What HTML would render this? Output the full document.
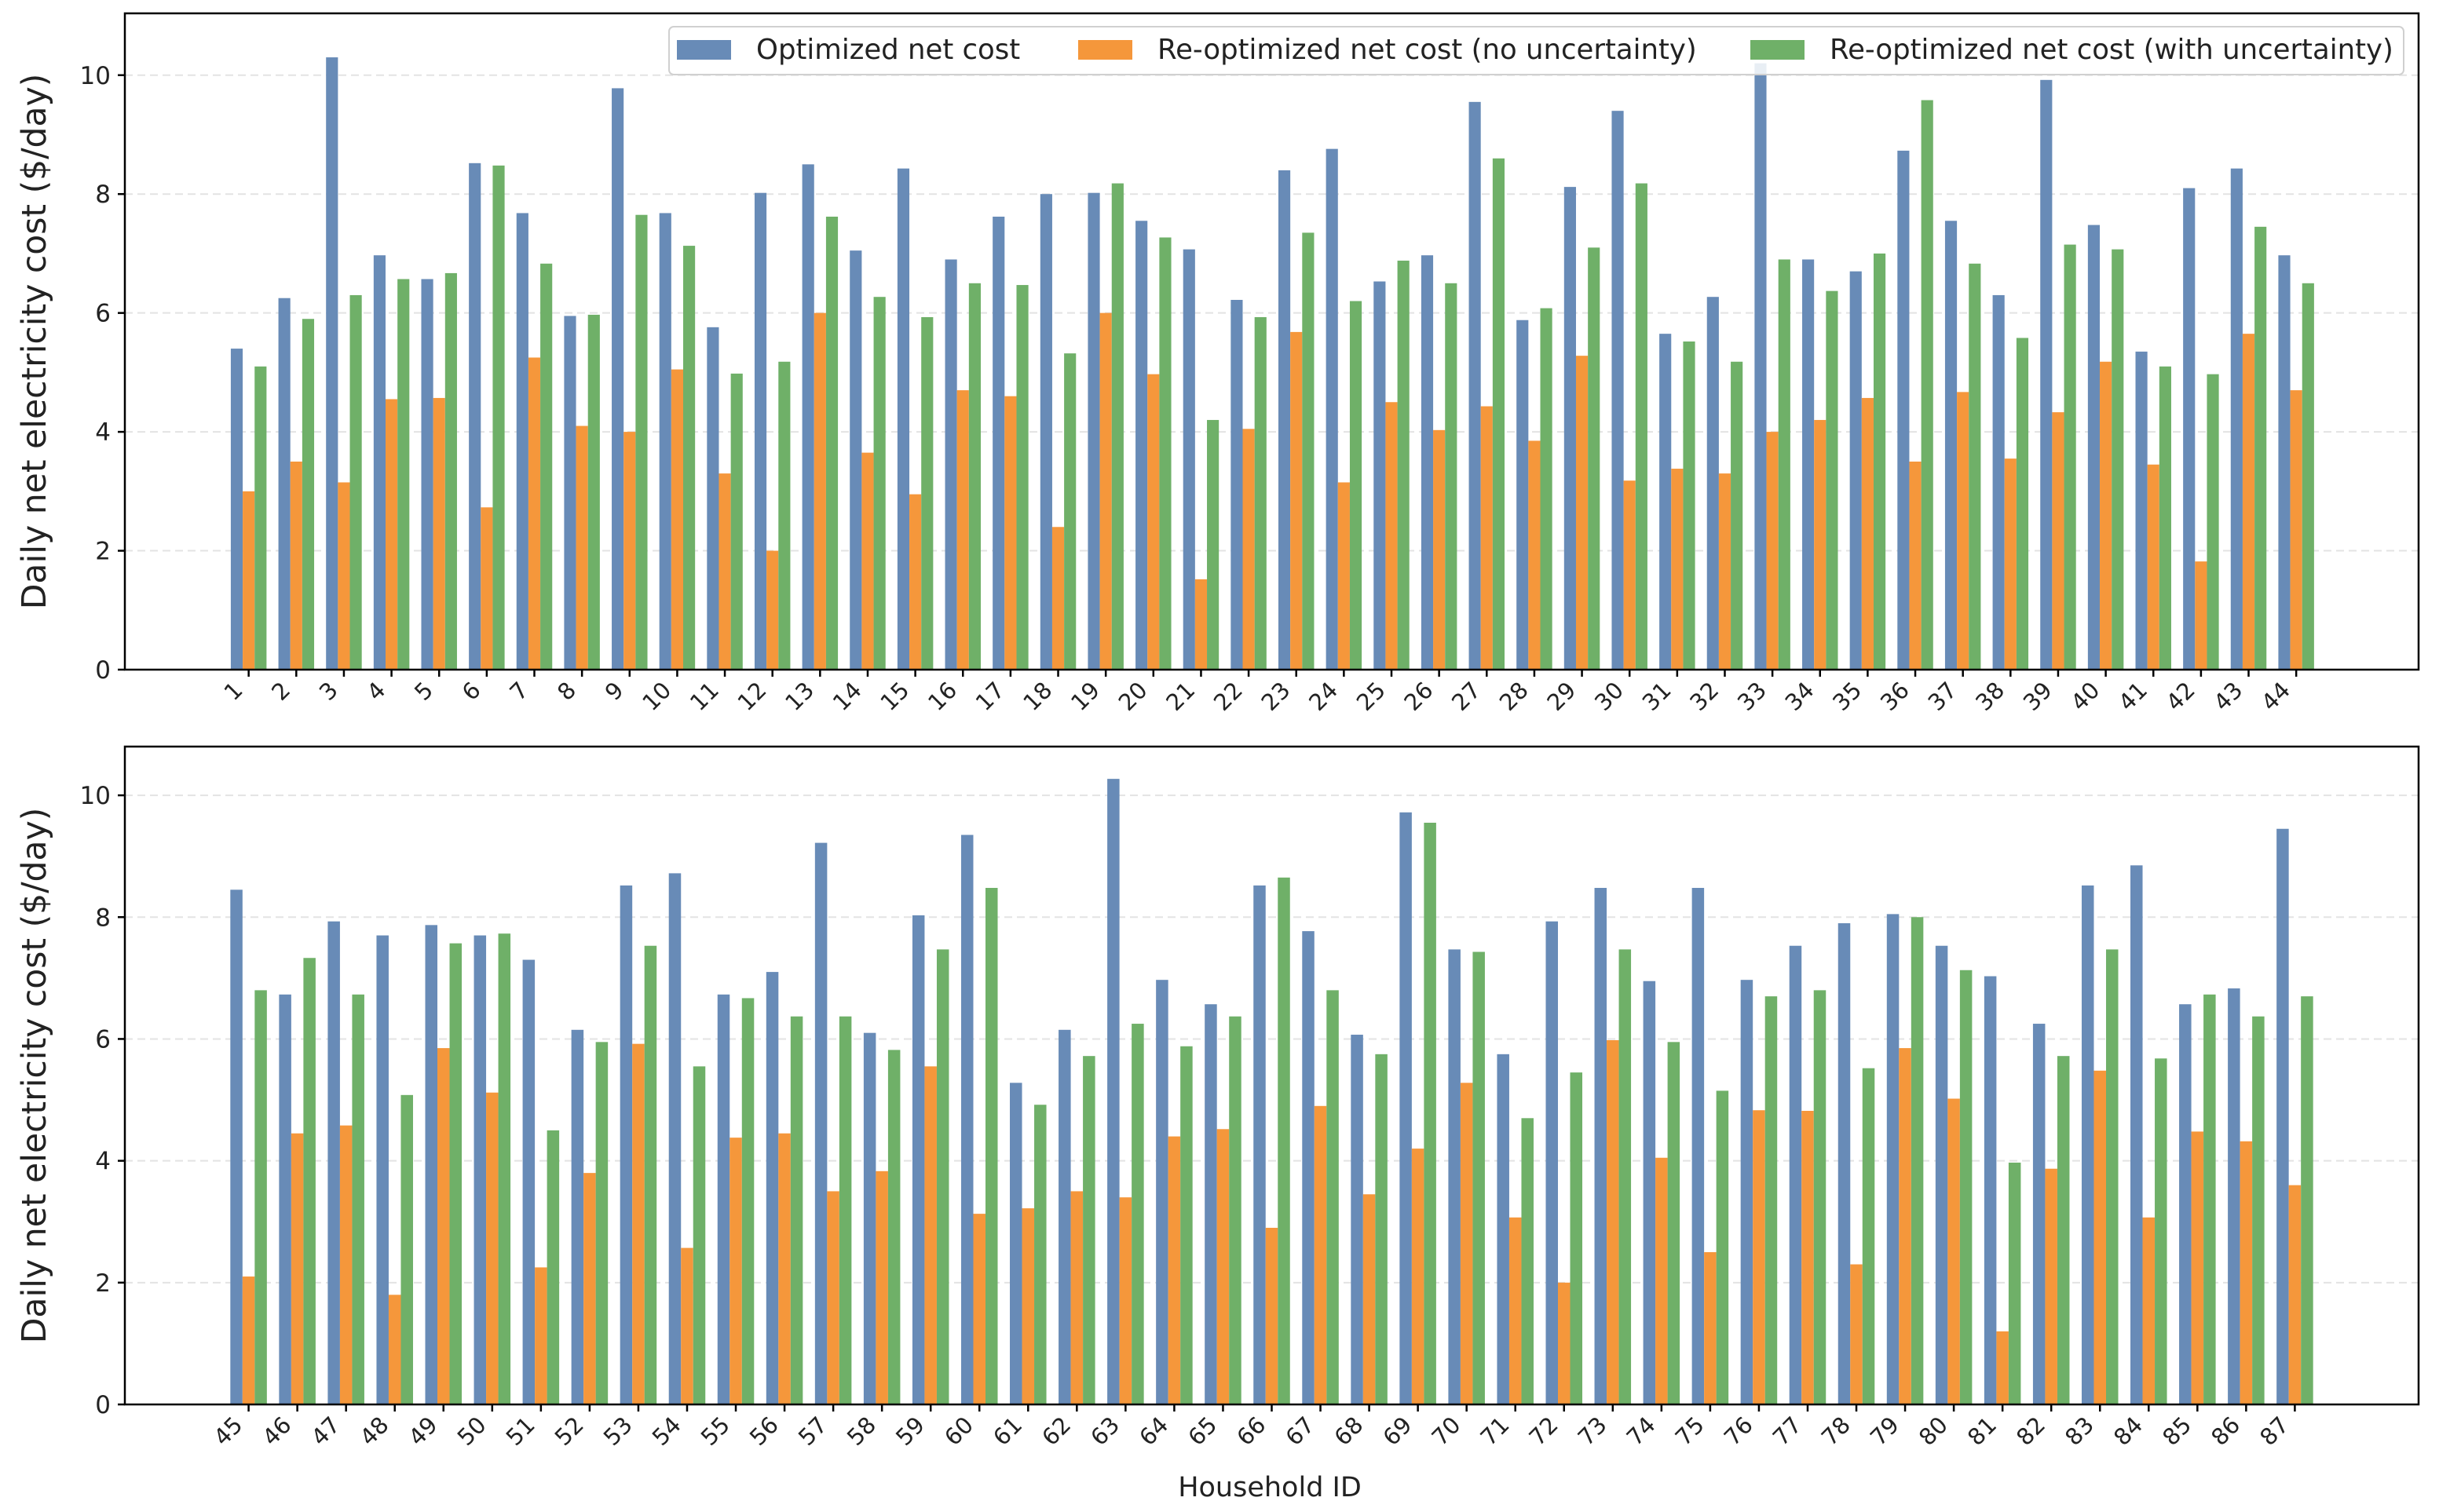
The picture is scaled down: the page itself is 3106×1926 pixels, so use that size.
<!DOCTYPE html>
<html><head><meta charset="utf-8"><style>
html,body{margin:0;padding:0;background:#fff;}
svg{display:block;font-family:"DejaVu Sans","Liberation Sans",sans-serif;}
</style></head><body>
<svg id="chart" width="3106" height="1926" viewBox="0 0 3106 1926" xmlns="http://www.w3.org/2000/svg"></svg>
<script>
const idsTop = [1,2,3,4,5,6,7,8,9,10,11,12,13,14,15,16,17,18,19,20,21,22,23,24,25,26,27,28,29,30,31,32,33,34,35,36,37,38,39,40,41,42,43,44];
const optTop = [5.4,6.25,10.3,6.97,6.57,8.52,7.68,5.95,9.78,7.68,5.76,8.02,8.5,7.05,8.43,6.9,7.62,8.0,8.02,7.55,7.07,6.22,8.4,8.76,6.53,6.97,9.55,5.88,8.12,9.4,5.65,6.27,10.2,6.9,6.7,8.73,7.55,6.3,9.92,7.48,5.35,8.1,8.43,6.97];
const reoptTop = [3.0,3.5,3.15,4.55,4.57,2.73,5.25,4.1,4.0,5.05,3.3,2.0,6.0,3.65,2.95,4.7,4.6,2.4,6.0,4.97,1.52,4.05,5.68,3.15,4.5,4.03,4.43,3.85,5.28,3.18,3.38,3.3,4.0,4.2,4.57,3.5,4.67,3.55,4.33,5.18,3.45,1.82,5.65,4.7];
const uncTop = [5.1,5.9,6.3,6.57,6.67,8.48,6.83,5.97,7.65,7.13,4.98,5.18,7.62,6.27,5.93,6.5,6.47,5.32,8.18,7.27,4.2,5.93,7.35,6.2,6.88,6.5,8.6,6.08,7.1,8.18,5.52,5.18,6.9,6.37,7.0,9.58,6.83,5.58,7.15,7.07,5.1,4.97,7.45,6.5];
const idsBot = [45,46,47,48,49,50,51,52,53,54,55,56,57,58,59,60,61,62,63,64,65,66,67,68,69,70,71,72,73,74,75,76,77,78,79,80,81,82,83,84,85,86,87];
const optBot = [8.45,6.73,7.93,7.7,7.87,7.7,7.3,6.15,8.52,8.72,6.73,7.1,9.22,6.1,8.03,9.35,5.28,6.15,10.27,6.97,6.57,8.52,7.77,6.07,9.72,7.47,5.75,7.93,8.48,6.95,8.48,6.97,7.53,7.9,8.05,7.53,7.03,6.25,8.52,8.85,6.57,6.83,9.45];
const reoptBot = [2.1,4.45,4.58,1.8,5.85,5.12,2.25,3.8,5.92,2.57,4.38,4.45,3.5,3.83,5.55,3.13,3.22,3.5,3.4,4.4,4.52,2.9,4.9,3.45,4.2,5.28,3.07,2.0,5.98,4.05,2.5,4.83,4.82,2.3,5.85,5.02,1.2,3.87,5.48,3.07,4.48,4.32,3.6];
const uncBot = [6.8,7.33,6.73,5.08,7.57,7.73,4.5,5.95,7.53,5.55,6.67,6.37,6.37,5.82,7.47,8.48,4.92,5.72,6.25,5.88,6.37,8.65,6.8,5.75,9.55,7.43,4.7,5.45,7.47,5.95,5.15,6.7,6.8,5.52,8.0,7.13,3.97,5.72,7.47,5.68,6.73,6.37,6.7];
const yTicks = [0,2,4,6,8,10];
const seriesNames = ["Optimized net cost","Re-optimized net cost (no uncertainty)","Re-optimized net cost (with uncertainty)"];
const colors = ["#688bb7","#f5973b","#6fb068"];

const NS="http://www.w3.org/2000/svg";
const svg=document.getElementById('chart');
function mk(tag,attrs,parent){const e=document.createElementNS(NS,tag);for(const k in attrs)e.setAttribute(k,attrs[k]);(parent||svg).appendChild(e);return e;}

function panel(cfg){
  const g=mk('g',{});
  
  
  const xs=i=>cfg.x0+(i-cfg.xmin)/(cfg.xmax-cfg.xmin)*(cfg.right-cfg.x0);
  const ys=v=>cfg.bottom-(v/cfg.ymax)*(cfg.bottom-cfg.top);
  const step=xs(1)-xs(0);
  yTicks.forEach(t=>{
    if(t===0)return;
    const l=mk('line',{x1:cfg.x0,x2:cfg.right,y1:ys(t),y2:ys(t),stroke:'#e3e3e3','stroke-width':2,'stroke-dasharray':'10,6'},g);
    
    
  });
  const sets=[cfg.opt,cfg.reopt,cfg.unc];
  sets.forEach((arr,s)=>{
    arr.forEach((v,i)=>{
      const cx=xs(i)+(s-1)*step*0.25;
      const r=mk('rect',{x:cx-step*0.125,y:ys(v),width:step*0.25,height:ys(0)-ys(v),fill:colors[s]},g);
      
      
    });
  });
  const f=mk('rect',{x:cfg.x0,y:cfg.top,width:cfg.right-cfg.x0,height:cfg.bottom-cfg.top,fill:'none',stroke:'#000','stroke-width':2.5},g);
  
  
  yTicks.forEach(t=>{
    mk('line',{x1:cfg.x0-9,x2:cfg.x0,y1:ys(t),y2:ys(t),stroke:'#000','stroke-width':2.5},g);
    const tx=mk('text',{x:cfg.x0-18,y:ys(t)+11,'text-anchor':'end','font-size':31,fill:'#222'},g);
    tx.textContent=t;
    
    
  });
  cfg.ids.forEach((id,i)=>{
    const x=xs(i);
    mk('line',{x1:x,x2:x,y1:cfg.bottom,y2:cfg.bottom+9,stroke:'#000','stroke-width':2.5},g);
    const ax=x-6, ay=cfg.bottom+28;
    const tx=mk('text',{x:ax,y:ay,'text-anchor':'end','font-size':29,fill:'#222',transform:`rotate(-45 ${ax} ${ay})`},g);
    tx.textContent=id;
    
    
  });
  const cy=(cfg.top+cfg.bottom)/2;
  const yl=mk('text',{x:58,y:cy,'text-anchor':'middle','font-size':42.5,fill:'#222',transform:`rotate(-90 58 ${cy})`},g);
  yl.textContent='Daily net electricity cost ($/day)';
  
  
}

panel({name:'top-panel',ids:idsTop,opt:optTop,reopt:reoptTop,unc:uncTop,x0:159,right:3080,top:17,bottom:853,xmin:-2.6,xmax:45.57,ymax:11.04});
panel({name:'bottom-panel',ids:idsBot,opt:optBot,reopt:reoptBot,unc:uncBot,x0:159,right:3080,top:951,bottom:1789,xmin:-2.54,xmax:44.54,ymax:10.8});

const lg=mk('g',{});


mk('rect',{x:852,y:34,width:2209,height:61,rx:6,fill:'#fff','fill-opacity':0.85,stroke:'#d0d0d0','stroke-width':2},lg);
const lx=[862,1373,2229];
seriesNames.forEach((nm,s)=>{
  const p=mk('rect',{x:lx[s],y:51,width:69,height:25,fill:colors[s]},lg);
  
  
  const t=mk('text',{x:lx[s]+101,y:75,'font-size':35.5,fill:'#222'},lg);
  t.textContent=nm;
  
  
});
const xl=mk('text',{x:1617,y:1906,'text-anchor':'middle','font-size':35,fill:'#222'});
xl.textContent='Household ID';


</script>
</body></html>
